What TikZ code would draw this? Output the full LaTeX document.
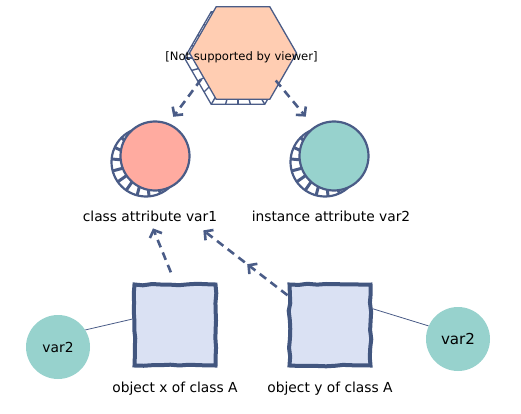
\documentclass[tikz,border=0pt]{standalone}
\usepackage{fontspec}
\setmainfont{DejaVu Sans}
\usetikzlibrary{arrows.meta,shapes.geometric,decorations.pathmorphing,decorations.markings}
\definecolor{linec}{HTML}{4A5C87}
\definecolor{hexfill}{HTML}{FFCDB2}
\definecolor{salmonc}{HTML}{FFABA0}
\definecolor{tealc}{HTML}{97D2CD}
\definecolor{boxfill}{HTML}{DAE1F3}
\definecolor{boxedge}{HTML}{42567F}
\tikzset{
 hexshape/.style={regular polygon, regular polygon sides=6, minimum size=107pt, inner sep=0pt, outer sep=0pt, draw=linec, line width=1.3pt},
 attrcirc/.style={circle, minimum size=69pt, inner sep=0pt, outer sep=0pt, draw=linec, line width=2.2pt},
 hatchline/.style={draw=linec, line width=3pt},
 objbox/.style={rectangle, minimum size=81pt, inner sep=0pt, fill=boxfill, draw=boxedge, line width=4pt, decorate, decoration={random steps, segment length=9pt, amplitude=0.8pt}},
 varcirc/.style={circle, minimum size=64pt, inner sep=0pt, fill=tealc},
 lbl/.style={inner sep=0pt, anchor=base, font=\fontsize{13.8}{16}\selectfont},
 dasharrow/.style={draw=linec, line width=2.6pt, dash pattern=on 8pt off 5.5pt, -{Straight Barb[length=6pt,width=13pt]}},
 thinline/.style={draw=linec, line width=0.8pt}
}
\begin{document}
\begin{tikzpicture}[x=1pt,y=-1pt]
\useasboundingbox (0,0) rectangle (521,414);
% hexagon with shadow
\node[hexshape, fill=white] (hexb) at (238,58) {};
\begin{scope}
\clip (hexb.corner 1) -- (hexb.corner 2) -- (hexb.corner 3) -- (hexb.corner 4) -- (hexb.corner 5) -- (hexb.corner 6) -- cycle;
\foreach \a in {0,15,...,345} \draw[hatchline, line width=1.4pt] (hexb.center) -- ++(\a:70);
\end{scope}
\node[hexshape, fill=hexfill] (hex) at (243,53) {};
\node[inner sep=0pt, anchor=base, font=\fontsize{11.6}{14}\selectfont] (hextxt) at (241.5,61) {[Not supported by viewer]};
% class attribute circle
\node[attrcirc, fill=white] (c1b) at (146,162) {};
\begin{scope}
\clip (c1b.center) circle (34.5);
\foreach \a in {5,25,...,365} \draw[hatchline] (c1b.center) -- ++(\a:40);
\end{scope}
\node[attrcirc, fill=salmonc] (c1) at (155,156) {};
% instance attribute circle
\node[attrcirc, fill=white] (c2b) at (325,162) {};
\begin{scope}
\clip (c2b.center) circle (34.5);
\foreach \a in {5,25,...,365} \draw[hatchline] (c2b.center) -- ++(\a:40);
\end{scope}
\node[attrcirc, fill=tealc] (c2) at (334,156) {};
% labels
\node[lbl] (lab1) at (150,221) {class attribute var1};
\node[lbl] (lab2) at (331,221) {instance attribute var2};
\node[lbl] (lab3) at (175,392) {object x of class A};
\node[lbl] (lab4) at (330,392) {object y of class A};
% objects
\node[objbox] (sq1) at (175,325) {};
\node[objbox] (sq2) at (330,325) {};
% var2 circles
\node[varcirc, font=\fontsize{13.8}{16}\selectfont] (v1) at (58,347) {var2};
\node[varcirc, font=\fontsize{15.1}{18}\selectfont] (v2) at (458,339) {var2};
% thin lines
\draw[thinline] (v1.32) -- (sq1.172);
\draw[thinline] (sq2.21) -- (v2.156);
% dashed arrows
\draw[dasharrow, shorten <=-4pt, shorten >=9pt] (hexb.-148) -- (c1.68);
\draw[dasharrow, shorten <=-4.5pt, shorten >=14pt] (hex.-41) -- (c2.124);
\draw[dasharrow, shorten <=11pt] (sq1.north) -- ([xshift=3pt,yshift=-7pt]lab1.south);
\draw[dasharrow, postaction={decorate}, decoration={markings, mark=at position 0.48 with {\arrow{Straight Barb[length=6pt,width=13pt]}}}] (sq2.145) -- ([xshift=-14pt,yshift=-9pt]lab1.south east);
\end{tikzpicture}
\end{document}
